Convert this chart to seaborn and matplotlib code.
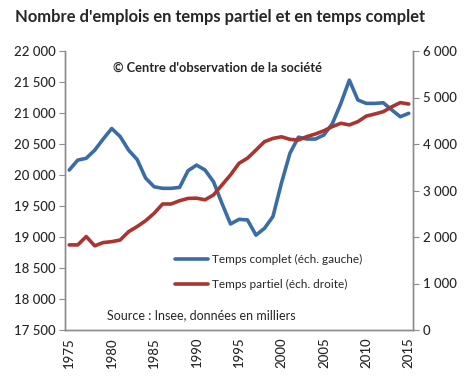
import numpy as np
import pandas as pd
import seaborn as sns
import matplotlib.pyplot as plt

years = list(range(1975, 2016))
temps_complet = [20080, 20240, 20270, 20400, 20580, 20750, 20620, 20400, 20250, 19950,
                 19810, 19785, 19785, 19800, 20070, 20160, 20080, 19890, 19540, 19210,
                 19285, 19275, 19030, 19140, 19330, 19870, 20350, 20610, 20580, 20580,
                 20645, 20830, 21155, 21530, 21210, 21155, 21155, 21165, 21050, 20940,
                 20995]
temps_partiel = [1830, 1830, 2010, 1810, 1880, 1900, 1935, 2115, 2225, 2350,
                 2510, 2710, 2710, 2780, 2830, 2835, 2800, 2905, 3120, 3335,
                 3585, 3695, 3870, 4050, 4120, 4155, 4100, 4085, 4160, 4215,
                 4285, 4375, 4445, 4410, 4480, 4600, 4645, 4695, 4800, 4890,
                 4860]

df = pd.DataFrame({'annee': years, 'complet': temps_complet, 'partiel': temps_partiel})

sns.set_style('white')
plt.rcParams['font.family'] = ['Lato', 'DejaVu Sans']

blue = '#3a6ca6'
red = '#aa3430'
grey = '#8c8c8c'

fig = plt.figure(figsize=(4.65, 3.84), dpi=100)
ax = fig.add_axes([65 / 465, 1 - 330 / 384, 348 / 465, 279 / 384])
ax2 = ax.twinx()

sns.lineplot(data=df, x='annee', y='complet', ax=ax, color=blue, linewidth=2.6)
sns.lineplot(data=df, x='annee', y='partiel', ax=ax2, color=red, linewidth=2.6)

ax.set_xlim(1974.5, 2015.5)
ax.set_ylim(17500, 22000)
ax2.set_ylim(0, 6000)

def fmt(v):
    return '{:,}'.format(int(v)).replace(',', ' ')

left_ticks = np.arange(17500, 22001, 500)
ax.set_yticks(left_ticks)
ax.set_yticklabels([fmt(v) for v in left_ticks])
right_ticks = np.arange(0, 6001, 1000)
ax2.set_yticks(right_ticks)
ax2.set_yticklabels([fmt(v) for v in right_ticks])

# tick marks between categories, labels centred on the year
ax.set_xticks([y - 0.5 for y in range(1975, 2016, 5)] + [2015.5])
ax.set_xticklabels([])
ax.set_xticks(list(range(1975, 2016, 5)), minor=True)
ax.set_xticklabels([str(y) for y in range(1975, 2016, 5)], minor=True, rotation=90)
ax.tick_params(axis='x', which='minor', length=0, pad=5)
ax.tick_params(axis='x', which='major', length=4, color=grey, width=1, direction='out')

for a in (ax, ax2):
    a.set_xlabel('')
    a.set_ylabel('')
    a.spines['top'].set_visible(False)
    for s in ('left', 'right', 'bottom'):
        a.spines[s].set_color(grey)
        a.spines[s].set_linewidth(1)
    a.grid(False)

ax.tick_params(axis='y', which='major', length=4, color=grey, direction='out', labelsize=9.5, pad=3)
ax2.tick_params(axis='y', which='major', length=4, color=grey, direction='out', labelsize=9.5, pad=3)
ax.tick_params(axis='x', which='minor', labelsize=9.5)
for lbl in ax.get_yticklabels() + ax2.get_yticklabels() + ax.get_xticklabels(minor=True):
    lbl.set_fontweight('medium')

fig.text(15 / 465, 1 - 17 / 384, "Nombre d'emplois en temps partiel et en temps complet",
         fontsize=11.9, fontweight='bold', va='center', ha='left')
fig.text(113 / 465, 1 - 68 / 384, "\u00a9 Centre d'observation de la société",
         fontsize=9.3, fontweight='bold', va='center', ha='left')
fig.text(107 / 465, 1 - 315 / 384, "Source : Insee, données en milliers",
         fontsize=9, va='center', ha='left')

# legend
fig.lines.append(plt.Line2D([175 / 465, 208 / 465], [1 - 259 / 384] * 2, color=blue,
                            linewidth=2.6, transform=fig.transFigure))
fig.lines.append(plt.Line2D([175 / 465, 208 / 465], [1 - 284 / 384] * 2, color=red,
                            linewidth=2.6, transform=fig.transFigure))
fig.text(212 / 465, 1 - 259 / 384, "Temps complet (éch. gauche)", fontsize=8.5,
         va='center', ha='left')
fig.text(212 / 465, 1 - 284 / 384, "Temps partiel (éch. droite)", fontsize=8.5,
         va='center', ha='left')

fig.savefig('out.png', dpi=100)
